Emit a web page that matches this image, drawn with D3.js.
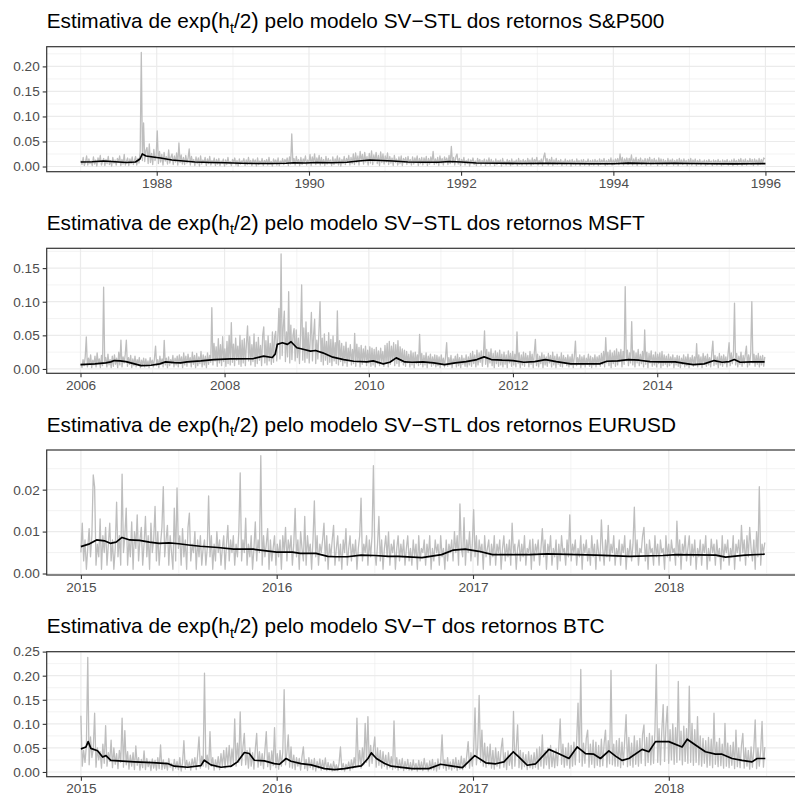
<!DOCTYPE html>
<html>
<head>
<meta charset="utf-8">
<script src="https://cdn.jsdelivr.net/npm/d3@7"></script>
<style>
  body { margin: 0; background: #fff; }
  svg { display: block; }
  text { font-family: "Liberation Sans", Arial, Helvetica, sans-serif; }
</style>
</head>
<body>
<svg id="chart" width="795" height="796"></svg>
<script>
// ---------------------------------------------------------------
// Absolute returns (grey) sampled evenly between start and end,
// and the estimated exp(h_t/2) path (black) at decimal-year times.
// ---------------------------------------------------------------

// S&P500, 1987-01-02 .. 1995-12-29
const spStart = "1987-01-02", spEnd = "1995-12-29";
const spAbs = [
  .012,.004,.018,.002,.009,.021,.003,.015,.006,.011,.002,.019,.005,.013,.001,.017,.008,.022,.003,.01,.016,.002,.014,.006,.02,.004,.012,.001,.018,.007,
  .013,.003,.016,.009,.021,.002,.014,.005,.024,.003,.011,.017,.002,.015,.006,.019,.004,.012,.02,.003,.016,.007,.03,.228,.012,.087,.01,.032,.038,.006,
  .045,.008,.026,.004,.034,.012,.022,.071,.006,.03,.009,.024,.003,.028,.011,.02,.005,.033,.007,.019,.025,.004,.021,.009,.027,.003,.047,.008,.023,.005,
  .018,.004,.022,.007,.016,.035,.003,.02,.009,.014,.002,.019,.006,.017,.001,.021,.005,.013,.008,.018,.002,.015,.006,.02,.003,.012,.007,.017,.002,.014,
  .005,.016,.002,.011,.007,.015,.001,.013,.004,.018,.006,.01,.002,.014,.008,.017,.003,.012,.001,.015,.005,.011,.009,.016,.002,.013,.004,.018,.006,.012,
  .002,.015,.007,.013,.001,.017,.004,.011,.006,.016,.002,.012,.008,.014,.003,.018,.005,.01,.001,.015,.007,.013,.003,.017,.002,.011,.006,.016,.004,.014,
  .008,.017,.002,.019,.005,.065,.006,.016,.003,.02,.007,.014,.002,.018,.004,.015,.009,.021,.003,.013,.006,.024,.002,.019,.008,.025,.004,.017,.007,.022,
  .003,.018,.006,.014,.002,.02,.005,.016,.008,.013,.002,.019,.004,.015,.007,.021,.003,.017,.001,.014,.006,.02,.004,.016,.009,.022,.003,.018,.006,.025,
  .004,.027,.008,.021,.003,.03,.011,.024,.005,.028,.009,.02,.003,.026,.007,.031,.004,.023,.01,.028,.006,.022,.002,.029,.008,.025,.005,.021,.009,.027,
  .004,.02,.007,.017,.002,.022,.008,.015,.003,.019,.006,.021,.002,.016,.009,.018,.004,.02,.007,.014,.003,.019,.005,.017,.008,.021,.002,.016,.006,.018,
  .003,.017,.007,.02,.002,.016,.005,.019,.008,.03,.004,.015,.006,.018,.002,.021,.007,.016,.003,.019,.009,.017,.004,.022,.006,.04,.008,.018,.003,.02,
  .025,.005,.016,.002,.014,.007,.018,.003,.012,.006,.015,.001,.013,.008,.017,.004,.011,.002,.016,.006,.014,.003,.012,.007,.015,.002,.013,.005,.017,.003,
  .014,.006,.011,.002,.015,.004,.012,.007,.013,.001,.016,.005,.01,.003,.014,.006,.012,.002,.015,.004,.011,.007,.013,.002,.016,.005,.012,.003,.014,.006,
  .012,.003,.016,.006,.013,.002,.017,.005,.014,.008,.018,.003,.012,.006,.015,.002,.019,.027,.007,.016,.003,.014,.006,.018,.002,.013,.005,.016,.004,.012,
  .006,.014,.002,.011,.005,.015,.003,.012,.007,.013,.001,.014,.005,.011,.003,.015,.006,.012,.002,.013,.005,.014,.003,.011,.007,.015,.002,.012,.004,.013,
  .003,.014,.006,.012,.002,.015,.005,.013,.007,.016,.002,.012,.004,.014,.006,.017,.003,.013,.005,.015,.008,.016,.004,.025,.006,.018,.003,.015,.007,.017,
  .004,.016,.008,.023,.003,.015,.006,.018,.002,.014,.007,.017,.004,.013,.006,.016,.002,.015,.008,.018,.003,.014,.005,.016,.007,.013,.002,.017,.005,.015,
  .003,.014,.006,.012,.002,.016,.005,.013,.007,.015,.003,.012,.005,.014,.002,.016,.006,.013,.004,.015,.007,.012,.002,.014,.005,.016,.003,.013,.006,.015,
  .002,.012,.005,.014,.003,.011,.006,.013,.002,.012,.004,.014,.006,.011,.002,.013,.005,.012,.003,.014,.006,.011,.002,.013,.004,.012,.006,.014,.003,.011,
  .005,.013,.002,.015,.006,.012,.003,.014,.007,.016,.002,.013,.005,.015,.003,.012,.006,.016,.004,.014,.002,.015,.007,.013,.003,.016,.005,.014,.006,.017,
  .015
];
const spVolT = [1987.0,1987.15,1987.3,1987.45,1987.6,1987.72,1987.78,1987.81,1987.86,1987.95,1988.05,1988.2,1988.35,1988.5,1988.7,1988.9,1989.1,1989.3,1989.5,1989.7,1989.8,1989.95,1990.1,1990.3,1990.5,1990.65,1990.8,1990.95,1991.1,1991.3,1991.5,1991.7,1991.85,1992.0,1992.2,1992.5,1992.8,1993.1,1993.4,1993.7,1994.0,1994.2,1994.5,1994.8,1995.0,1995.3,1995.6,1995.8,1996.0];
const spVol  = [.009,.0095,.011,.0095,.008,.009,.015,.025,.021,.019,.017,.013,.011,.009,.008,.0075,.0065,.006,.006,.0065,.0075,.007,.008,.0075,.0085,.011,.013,.012,.011,.009,.0085,.0085,.01,.009,.007,.0065,.006,.0062,.006,.0055,.0055,.0068,.006,.0065,.006,.0055,.0052,.0055,.0058];

// MSFT, 2006-01-03 .. 2015-06-30
const msStart = "2006-01-03", msEnd = "2015-06-30";
const msAbs = [
  .008,.002,.014,.005,.018,.0475,.003,.016,.007,.021,.002,.013,.006,.019,.003,.024,.008,.015,.002,.02,.005,.1215,.009,.017,.003,.022,.006,.014,.002,.019,
  .004,.021,.007,.016,.002,.025,.006,.043,.003,.018,.009,.022,.043,.004,.017,.007,.02,.002,.015,.005,.019,.003,.014,.008,.017,.002,.013,.006,.016,.003,
  .015,.004,.012,.002,.017,.006,.013,.003,.016,.034,.005,.014,.002,.019,.007,.015,.003,.0425,.006,.016,.002,.018,.005,.014,.008,.02,.003,.016,.006,.019,
  .003,.021,.008,.018,.002,.024,.006,.019,.004,.022,.009,.017,.003,.025,.007,.02,.002,.023,.005,.018,.008,.026,.003,.021,.006,.019,.002,.024,.007,.02,
  .01,.091,.006,.038,.012,.033,.004,.045,.009,.036,.005,.048,.011,.03,.004,.041,.008,.05,.006,.069,.01,.037,.005,.046,.013,.034,.007,.05,.004,.043,
  .009,.045,.005,.038,.064,.012,.048,.006,.036,.011,.052,.004,.04,.008,.047,.013,.035,.005,.05,.0625,.009,.042,.006,.049,.012,.038,.007,.055,.01,.048,
  .056,.012,.048,.09,.015,.171,.02,.062,.086,.011,.055,.018,.115,.009,.065,.014,.05,.06,.012,.058,.017,.046,.008,.052,.125,.013,.061,.01,.07,.016,
  .054,.009,.047,.084,.012,.05,.074,.008,.043,.015,.057,.1,.011,.046,.006,.052,.013,.041,.007,.054,.01,.044,.005,.049,.012,.039,.008,.0865,.006,.042,
  .011,.038,.005,.034,.009,.04,.004,.031,.012,.036,.006,.029,.008,.053,.004,.037,.01,.032,.003,.035,.007,.03,.011,.034,.005,.028,.009,.033,.004,.031,
  .006,.029,.003,.032,.008,.027,.005,.031,.011,.026,.004,.035,.009,.038,.003,.041,.007,.034,.012,.039,.005,.036,.008,.042,.004,.033,.01,.03,.006,.028,
  .004,.026,.009,.022,.003,.027,.006,.024,.002,.025,.008,.021,.005,.0515,.007,.023,.003,.02,.006,.024,.002,.019,.008,.022,.004,.018,.006,.021,.003,.02,
  .005,.018,.002,.021,.007,.016,.003,.019,.039,.004,.017,.006,.02,.002,.015,.008,.019,.003,.022,.005,.017,.002,.02,.007,.016,.004,.021,.003,.018,.006,
  .023,.004,.026,.008,.021,.003,.028,.006,.024,.01,.027,.004,.022,.0565,.007,.029,.003,.025,.009,.03,.005,.023,.002,.027,.008,.024,.004,.028,.006,.022,
  .003,.025,.007,.021,.002,.027,.009,.023,.004,.026,.006,.022,.003,.055,.008,.024,.002,.021,.006,.025,.004,.023,.009,.02,.003,.026,.007,.022,.002,.024,
  .044,.005,.022,.003,.019,.008,.024,.002,.021,.006,.018,.004,.023,.009,.02,.003,.025,.006,.019,.002,.022,.007,.018,.004,.024,.003,.02,.008,.017,.005,
  .021,.003,.018,.006,.022,.002,.019,.0415,.005,.017,.008,.021,.002,.018,.006,.02,.003,.016,.007,.022,.004,.019,.002,.017,.006,.021,.003,.018,.008,.02,
  .004,.023,.007,.026,.003,.0465,.009,.025,.005,.028,.002,.024,.008,.027,.004,.03,.006,.025,.011,.029,.003,.026,.007,.1225,.012,.028,.005,.024,.009,.0705,
  .006,.027,.003,.024,.009,.029,.005,.022,.008,.026,.003,.058,.007,.025,.002,.023,.009,.027,.004,.021,.006,.025,.003,.022,.008,.024,.002,.026,.005,.021,
  .007,.019,.003,.022,.005,.018,.008,.021,.002,.017,.006,.02,.004,.019,.002,.016,.007,.021,.003,.018,.005,.022,.002,.017,.008,.02,.004,.018,.006,.0375,
  .003,.021,.006,.018,.002,.023,.008,.019,.004,.022,.006,.017,.003,.024,.0415,.005,.02,.007,.018,.002,.023,.006,.019,.004,.021,.008,.018,.003,.022,.039,
  .005,.024,.008,.021,.098,.006,.023,.003,.019,.007,.025,.004,.02,.008,.022,.034,.003,.021,.006,.024,.1,.009,.022,.004,.02,.007,.023,.003,.019,.006,
  .02,.004,.018
];
const msVolT = [2006.0,2006.2,2006.35,2006.42,2006.47,2006.55,2006.63,2006.75,2006.84,2006.98,2007.1,2007.18,2007.3,2007.39,2007.48,2007.67,2007.85,2008.08,2008.4,2008.54,2008.66,2008.7,2008.73,2008.8,2008.87,2008.92,2009.0,2009.1,2009.19,2009.26,2009.36,2009.5,2009.65,2009.79,2009.97,2010.06,2010.2,2010.29,2010.38,2010.5,2010.6,2010.75,2010.9,2011.05,2011.2,2011.35,2011.5,2011.6,2011.7,2011.85,2012.0,2012.15,2012.3,2012.45,2012.6,2012.8,2013.0,2013.2,2013.3,2013.45,2013.6,2013.75,2013.9,2014.05,2014.25,2014.4,2014.5,2014.65,2014.79,2014.9,2015.0,2015.07,2015.15,2015.3,2015.49];
const msVol  = [.0065,.0075,.009,.0105,.0125,.012,.011,.0075,.005,.0055,.0075,.0105,.0095,.009,.0105,.012,.014,.015,.0155,.019,.017,.022,.0365,.039,.0365,.0405,.0315,.029,.0265,.0275,.024,.0175,.014,.0115,.0105,.012,.0075,.01,.0165,.0105,.01,.0105,.009,.0065,.009,.011,.014,.018,.014,.013,.0125,.01,.011,.014,.011,.0075,.0075,.0075,.0115,.012,.014,.013,.011,.0105,.0105,.008,.0065,.0075,.0125,.01,.011,.014,.01,.0105,.0105];

// EURUSD, 2015-01-01 .. 2018-06-29
const euStart = "2015-01-01", euEnd = "2018-06-29";
const euAbs = [
  .005,.012,.003,.008,.001,.006,.0107,.004,.009,.0235,.0206,.002,.007,.004,.013,.001,.009,.005,.011,.002,.007,.012,.003,.008,.001,.006,.017,.004,.009,.002,
  .0237,.005,.009,.0156,.002,.008,.004,.0123,.001,.01,.006,.014,.003,.008,.011,.002,.007,.0136,.004,.009,.001,.012,.005,.008,.016,.003,.01,.002,.007,.011,
  .0207,.004,.008,.0115,.002,.009,.005,.001,.0156,.003,.0204,.006,.009,.002,.0107,.004,.008,.001,.011,.0144,.003,.007,.005,.01,.001,.008,.004,.009,.002,.006,
  .008,.002,.006,.0185,.004,.009,.001,.007,.003,.01,.005,.008,.002,.006,.009,.001,.007,.0115,.003,.008,.005,.009,.002,.007,.004,.01,.024,.003,.008,.005,
  .0132,.002,.007,.004,.009,.001,.006,.0123,.003,.008,.005,.0281,.002,.009,.004,.007,.0107,.001,.008,.003,.006,.009,.002,.007,.004,.008,.001,.009,.005,.011,
  .003,.008,.005,.009,.002,.007,.0155,.004,.008,.001,.01,.006,.003,.0136,.002,.009,.005,.007,.001,.008,.0173,.004,.009,.002,.007,.005,.008,.012,.003,.009,
  .001,.007,.004,.008,.0115,.002,.006,.009,.003,.007,.001,.008,.005,.0107,.002,.006,.009,.003,.007,.004,.008,.001,.006,.009,.018,.003,.007,.005,.009,.002,
  .008,.004,.009,.0257,.005,.002,.007,.0136,.003,.008,.001,.006,.009,.004,.0099,.002,.007,.005,.008,.001,.006,.009,.003,.007,.004,.008,.002,.006,.009,.003,
  .006,.002,.008,.004,.007,.001,.009,.003,.006,.005,.008,.002,.007,.004,.009,.001,.006,.003,.008,.005,.007,.002,.009,.004,.006,.001,.008,.003,.007,.005,
  .008,.003,.01,.005,.009,.002,.0166,.006,.004,.0133,.002,.008,.005,.01,.003,.007,.0152,.004,.009,.002,.008,.005,.007,.001,.009,.004,.006,.008,.002,.007,
  .004,.009,.002,.007,.005,.008,.001,.006,.009,.003,.007,.004,.008,.002,.012,.005,.007,.001,.006,.008,.003,.007,.004,.009,.002,.006,.005,.008,.001,.0082,
  .003,.007,.005,.008,.002,.006,.0107,.004,.008,.001,.007,.005,.009,.002,.006,.004,.008,.001,.007,.003,.009,.005,.006,.002,.008,.004,.014,.003,.007,.005,
  .008,.002,.006,.004,.009,.001,.007,.005,.008,.003,.006,.002,.009,.004,.007,.001,.008,.005,.003,.0128,.006,.002,.008,.004,.0115,.003,.007,.005,.009,.002,
  .006,.004,.008,.002,.007,.005,.009,.001,.006,.004,.008,.003,.007,.0158,.004,.008,.002,.006,.005,.009,.011,.003,.007,.001,.008,.005,.006,.002,.009,.004,
  .007,.002,.008,.005,.006,.001,.009,.004,.007,.003,.008,.005,.006,.002,.0125,.004,.008,.001,.007,.005,.009,.003,.006,.009,.002,.007,.004,.008,.001,.006,
  .004,.008,.002,.007,.005,.009,.001,.006,.003,.0082,.005,.007,.002,.008,.004,.006,.001,.009,.003,.007,.005,.008,.002,.006,.004,.009,.001,.007,.005,.008,
  .003,.0115,.005,.008,.002,.009,.004,.011,.006,.003,.008,.001,.01,.004,.0207,.002,.007,.005,.0074
];
const euVolT = [2015.0,2015.04,2015.08,2015.12,2015.15,2015.18,2015.21,2015.25,2015.3,2015.35,2015.4,2015.45,2015.5,2015.55,2015.61,2015.7,2015.78,2015.88,2016.0,2016.08,2016.12,2016.2,2016.26,2016.3,2016.36,2016.43,2016.5,2016.57,2016.62,2016.74,2016.84,2016.9,2016.96,2017.03,2017.1,2017.29,2017.38,2017.63,2017.8,2017.97,2018.04,2018.24,2018.29,2018.39,2018.49];
const euVol  = [.0064,.007,.008,.0078,.0072,.0075,.0086,.008,.0079,.0075,.0072,.0073,.0071,.0068,.0065,.0062,.0058,.0058,.0051,.0051,.0048,.0048,.0041,.004,.004,.0044,.0043,.0041,.0041,.0038,.0045,.0056,.0058,.0053,.0045,.0045,.0047,.0044,.0041,.0043,.0045,.0044,.0039,.0044,.0046];

// BTC, 2015-01-01 .. 2018-06-29
const btStart = "2015-01-01", btEnd = "2018-06-29";
const btAbs = [
  .117,.012,.045,.02,.055,.238,.015,.073,.03,.048,.122,.01,.05,.025,.042,.008,.058,.018,.096,.012,.04,.022,.066,.009,.05,.016,.038,.007,.045,.02,
  .112,.01,.086,.015,.042,.006,.035,.012,.04,.005,.054,.014,.03,.004,.026,.009,.044,.005,.028,.011,.022,.003,.027,.008,.024,.004,.03,.007,.056,.005,
  .025,.007,.02,.004,.028,.01,.018,.003,.026,.008,.022,.005,.03,.002,.019,.065,.006,.024,.009,.021,.004,.027,.011,.03,.005,.035,.073,.008,.033,.012,
  .205,.01,.035,.006,.084,.012,.03,.004,.025,.009,.032,.005,.038,.012,.045,.008,.05,.015,.055,.01,.048,.018,.11,.012,.06,.02,.125,.014,.052,.08,
  .015,.045,.008,.05,.012,.04,.006,.048,.08,.01,.042,.014,.038,.007,.046,.084,.011,.04,.005,.044,.013,.092,.009,.038,.006,.045,.012,.041,.171,.015,
  .04,.077,.01,.052,.008,.035,.005,.03,.012,.028,.004,.032,.052,.007,.026,.003,.03,.009,.025,.005,.028,.002,.022,.008,.027,.004,.024,.006,.029,.003,
  .02,.004,.017,.002,.022,.005,.015,.003,.019,.052,.004,.018,.002,.016,.006,.021,.003,.025,.007,.03,.01,.112,.012,.045,.008,.05,.015,.101,.02,.115,
  .012,.055,.018,.048,.073,.01,.05,.014,.045,.008,.042,.012,.035,.006,.04,.009,.032,.005,.106,.008,.03,.004,.025,.007,.028,.003,.022,.006,.026,.004,
  .02,.003,.025,.006,.018,.002,.024,.005,.021,.003,.028,.007,.019,.002,.023,.005,.026,.004,.02,.002,.027,.006,.022,.077,.008,.025,.003,.03,.006,.021,
  .004,.026,.008,.03,.003,.024,.006,.033,.005,.028,.01,.035,.063,.008,.04,.012,.045,.133,.015,.055,.159,.02,.087,.012,.06,.01,.052,.015,.058,.008,
  .045,.006,.05,.012,.042,.008,.048,.07,.01,.04,.005,.044,.014,.038,.007,.126,.012,.05,.098,.009,.045,.006,.04,.011,.036,.005,.042,.009,.035,.007,
  .04,.01,.048,.006,.052,.012,.077,.008,.045,.015,.05,.007,.055,.011,.042,.009,.048,.013,.053,.11,.016,.058,.01,.05,.014,.06,.008,.055,.012,.062,
  .015,.065,.143,.02,.213,.012,.06,.018,.07,.087,.01,.058,.016,.066,.009,.062,.014,.055,.011,.068,.013,.06,.087,.01,.065,.017,.211,.015,.058,.012,
  .065,.012,.07,.009,.062,.015,.068,.119,.011,.072,.014,.06,.01,.075,.016,.065,.012,.07,.018,.078,.098,.013,.072,.02,.08,.015,.075,.018,.085,.223,
  .02,.09,.015,.085,.14,.022,.095,.136,.018,.088,.025,.1,.016,.092,.02,.188,.025,.085,.015,.095,.022,.09,.018,.178,.02,.101,.014,.088,.02,.115,
  .015,.075,.012,.07,.018,.065,.01,.072,.014,.068,.009,.122,.016,.062,.011,.07,.013,.058,.008,.101,.012,.06,.009,.055,.014,.062,.007,.087,.011,.05,
  .009,.055,.08,.008,.05,.012,.045,.006,.052,.01,.048,.108,.007,.05,.012,.045,.105,.01,.052
];
const btVolT = [2015.0,2015.026,2015.037,2015.051,2015.085,2015.111,2015.128,2015.153,2015.273,2015.366,2015.443,2015.477,2015.545,2015.613,2015.63,2015.664,2015.716,2015.767,2015.8,2015.835,2015.86,2015.886,2015.937,2015.988,2016.014,2016.048,2016.073,2016.124,2016.175,2016.244,2016.295,2016.346,2016.397,2016.431,2016.465,2016.482,2016.508,2016.55,2016.584,2016.605,2016.69,2016.775,2016.835,2016.895,2016.946,2017.009,2017.065,2017.116,2017.158,2017.206,2017.235,2017.277,2017.32,2017.388,2017.439,2017.49,2017.532,2017.575,2017.617,2017.651,2017.694,2017.728,2017.762,2017.796,2017.864,2017.898,2017.932,2018.0,2018.068,2018.094,2018.136,2018.187,2018.238,2018.272,2018.323,2018.374,2018.425,2018.451,2018.493];
const btVol  = [.048,.052,.063,.049,.044,.031,.034,.024,.021,.0195,.0175,.012,.0098,.0133,.0244,.0147,.0098,.012,.021,.0405,.0384,.0244,.023,.0175,.016,.028,.0223,.0175,.0147,.007,.0049,.007,.0105,.0126,.028,.0398,.028,.0175,.012,.011,.007,.007,.016,.012,.009,.034,.019,.017,.021,.042,.031,.014,.017,.047,.038,.028,.052,.038,.037,.028,.044,.033,.024,.028,.047,.042,.063,.063,.052,.068,.056,.042,.037,.037,.028,.024,.021,.028,.028];

// Axis tick values
const spYTicks = [0, 0.05, 0.10, 0.15, 0.20];
const msYTicks = [0, 0.05, 0.10, 0.15];
const euYTicks = [0, 0.01, 0.02];
const btYTicks = [0, 0.05, 0.10, 0.15, 0.20, 0.25];

const assets = ["S&P500", "MSFT", "EURUSD", "BTC"];
const models = ["SV\u2212STL", "SV\u2212STL", "SV\u2212STL", "SV\u2212T"];

// ---------------------------------------------------------------
const panels = [
  { abs: spAbs, start: spStart, end: spEnd, volT: spVolT, vol: spVol, yTicks: spYTicks, yearStep: 2 },
  { abs: msAbs, start: msStart, end: msEnd, volT: msVolT, vol: msVol, yTicks: msYTicks, yearStep: 2 },
  { abs: euAbs, start: euStart, end: euEnd, volT: euVolT, vol: euVol, yTicks: euYTicks, yearStep: 1 },
  { abs: btAbs, start: btStart, end: btEnd, volT: btVolT, vol: btVol, yTicks: btYTicks, yearStep: 1 }
];

const svg = d3.select("#chart");
const left = 46.7, right = 799;
const tops = [46.7, 248.3, 450, 651.7];
const ph = 125;
const gridCol = "#EBEBEB", axisCol = "#333333", labCol = "#4D4D4D";

function yearToDate(y) {
  const yr = Math.floor(y), f = y - yr;
  const a = new Date(yr, 0, 1), b = new Date(yr + 1, 0, 1);
  return new Date(+a + f * (b - a));
}

panels.forEach((p, k) => {
  const top = tops[k], bottom = top + ph;
  const t0 = d3.timeParse("%Y-%m-%d")(p.start), t1 = d3.timeParse("%Y-%m-%d")(p.end);
  const n = p.abs.length;
  const absPts = p.abs.map((v, i) => ({ d: new Date(+t0 + (t1 - t0) * i / (n - 1)), v }));
  const volPts = p.vol.map((v, i) => ({ d: yearToDate(p.volT[i]), v }));

  // ggplot-style 5% expansion of the data range
  const xr = [+t0, +t1], xs = xr[1] - xr[0];
  const x = d3.scaleTime()
    .domain([new Date(xr[0] - 0.05 * xs), new Date(xr[1] + 0.05 * xs)])
    .range([left, right]);
  const allV = p.abs.concat(p.vol);
  const vmin = d3.min(allV), vmax = d3.max(allV), vs = vmax - vmin;
  const y = d3.scaleLinear()
    .domain([vmin - 0.05 * vs, vmax + 0.05 * vs])
    .range([bottom, top]);

  const g = svg.append("g");

  // gridlines (major at ticks, minor halfway between)
  const yStep = p.yTicks[1] - p.yTicks[0];
  const yMinor = [];
  for (let i = -1; i < p.yTicks.length; i++) {
    const m = (i < 0 ? p.yTicks[0] - yStep : p.yTicks[i]) + yStep / 2;
    if (m > y.domain()[0] && m < y.domain()[1]) yMinor.push(m);
  }
  const [d0, d1] = x.domain();
  const y0 = d0.getFullYear(), y1 = d1.getFullYear() + 1;
  const xMajor = [], xMinor = [];
  for (let yr = y0 - 2; yr <= y1 + 2; yr++) {
    if (yr % p.yearStep === 0) {
      const dt = new Date(yr, 0, 1);
      if (dt >= d0 && dt <= d1) xMajor.push(dt);
      const mid = p.yearStep === 2 ? new Date(yr + 1, 0, 1) : yearToDate(yr + 0.5);
      if (mid >= d0 && mid <= d1) xMinor.push(mid);
    }
  }

  g.selectAll(".ymin").data(yMinor).join("line")
    .attr("x1", left).attr("x2", right).attr("y1", d => y(d)).attr("y2", d => y(d))
    .attr("stroke", gridCol).attr("stroke-width", 0.6);
  g.selectAll(".xmin").data(xMinor).join("line")
    .attr("x1", d => x(d)).attr("x2", d => x(d)).attr("y1", top).attr("y2", bottom)
    .attr("stroke", gridCol).attr("stroke-width", 0.6);
  g.selectAll(".ymaj").data(p.yTicks).join("line")
    .attr("x1", left).attr("x2", right).attr("y1", d => y(d)).attr("y2", d => y(d))
    .attr("stroke", gridCol).attr("stroke-width", 1.2);
  g.selectAll(".xmaj").data(xMajor).join("line")
    .attr("x1", d => x(d)).attr("x2", d => x(d)).attr("y1", top).attr("y2", bottom)
    .attr("stroke", gridCol).attr("stroke-width", 1.2);

  // series
  const line = d3.line().x(d => x(d.d)).y(d => y(d.v));
  g.append("path").datum(absPts).attr("d", line)
    .attr("fill", "none").attr("stroke", "#BEBEBE").attr("stroke-width", 1.3)
    .attr("stroke-linejoin", "round");
  g.append("path").datum(volPts).attr("d", line)
    .attr("fill", "none").attr("stroke", "#000").attr("stroke-width", 1.7)
    .attr("stroke-linejoin", "round");

  // panel border
  g.append("rect").attr("x", left).attr("y", top).attr("width", right - left).attr("height", ph)
    .attr("fill", "none").attr("stroke", axisCol).attr("stroke-width", 1.2);

  // axes
  const fmt = d3.format(".2f");
  const yAxis = d3.axisLeft(y).tickValues(p.yTicks).tickFormat(fmt).tickSize(4).tickPadding(3);
  const ya = g.append("g").attr("transform", `translate(${left},0)`).call(yAxis);
  const xAxis = d3.axisBottom(x).tickValues(xMajor).tickFormat(d3.timeFormat("%Y")).tickSize(4).tickPadding(3);
  const xa = g.append("g").attr("transform", `translate(0,${bottom})`).call(xAxis);
  [ya, xa].forEach(a => {
    a.select(".domain").remove();
    a.selectAll(".tick line").attr("stroke", axisCol).attr("stroke-width", 1.1);
    a.selectAll(".tick text").attr("fill", labCol).style("font-size", "13.6px")
      .style("font-family", '"Liberation Sans", Arial, sans-serif');
  });

  // title: Estimativa de exp(h_t/2) pelo modelo ... dos retornos ...
  const title = g.append("text").attr("x", left).attr("y", top - 18.5)
    .attr("fill", "#000").style("font-size", "20.8px");
  title.append("tspan").text("Estimativa de exp");
  title.append("tspan").text("(").style("font-size", "22.5px");
  title.append("tspan").text("h");
  title.append("tspan").text("t").style("font-size", "14.5px").attr("dy", 4.5);
  title.append("tspan").text("/2").attr("dy", -4.5);
  title.append("tspan").text(")").style("font-size", "22.5px");
  title.append("tspan").text(` pelo modelo ${models[k]} dos retornos ${assets[k]}`);
});
</script>
</body>
</html>
